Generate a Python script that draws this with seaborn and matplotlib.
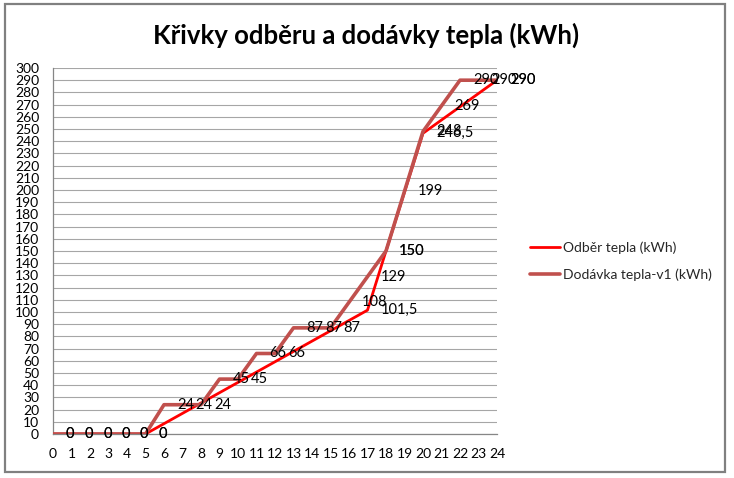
import numpy as np
import pandas as pd
import matplotlib
matplotlib.use("Agg")
import matplotlib.pyplot as plt
from matplotlib.patches import Rectangle
import seaborn as sns

# ---- data ----
hours = list(range(25))
odber = [0, 0, 0, 0, 0, 0,
         None, None, None, None, None, None, None, None, None, None, None,
         101.5, 150, None, 246.5, None, None, None, 290]
dodavka = [0, 0, 0, 0, 0, 0, 24, 24, 24, 45, 45, 66, 66, 87, 87, 87,
           108, 129, 150, 199, 248, 269, 290, 290, 290]
series_names = ["Odběr tepla (kWh)", "Dodávka tepla-v1 (kWh)"]
title = "Křivky odběru a dodávky tepla (kWh)"
y_ticks = list(range(0, 301, 10))

colors = {"Odběr tepla (kWh)": "#FF0000", "Dodávka tepla-v1 (kWh)": "#C0504D"}
widths = {"Odběr tepla (kWh)": 2.0, "Dodávka tepla-v1 (kWh)": 2.6}

sns.set_style("white")
plt.rcParams["font.family"] = ["Lato", "DejaVu Sans"]

W, H = 734, 478
fig = plt.figure(figsize=(W / 100, H / 100), dpi=100)
fig.patch.set_facecolor("white")

ax = fig.add_axes([53 / W, (H - 434) / H, (497 - 53) / W, (434 - 68) / H])

frames = []
for name, vals in zip(series_names, [odber, dodavka]):
    d = pd.DataFrame({"hour": hours, "value": vals, "series": name})
    frames.append(d)
df = pd.concat(frames, ignore_index=True)
df["value"] = pd.to_numeric(df["value"])

for name in series_names:
    sub = df[(df["series"] == name)].dropna(subset=["value"])
    sns.lineplot(data=sub, x="hour", y="value", color=colors[name],
                 linewidth=widths[name], label=name, ax=ax, sort=True,
                 zorder=3 if name == series_names[0] else 4)


def fmt(v):
    if float(v).is_integer():
        return str(int(v))
    return ("%g" % v).replace(".", ",")


for name in series_names:
    sub = df[(df["series"] == name)].dropna(subset=["value"])
    for x, v in zip(sub["hour"], sub["value"]):
        ax.annotate(fmt(v), (x, v), xytext=(13, 0), textcoords="offset pixels",
                    ha="left", va="center", fontsize=10.5, color="black",
                    annotation_clip=False, zorder=6)

ax.set_xlim(0, 24)
ax.set_ylim(0, 300)
ax.set_xticks(hours)
ax.set_xticklabels([str(h) for h in hours])
ax.set_yticks(y_ticks)
ax.set_yticklabels([str(t) for t in y_ticks])
ax.set_xlabel("")
ax.set_ylabel("")

ax.grid(axis="y", color="#a6a6a6", linewidth=0.8, zorder=0)
ax.grid(axis="x", visible=False)
for s in ["top", "right"]:
    ax.spines[s].set_visible(False)
for s in ["left", "bottom"]:
    ax.spines[s].set_color("#868686")
    ax.spines[s].set_linewidth(0.9)
ax.tick_params(axis="both", direction="out", length=4, width=0.8,
               color="#868686", labelsize=10, labelcolor="black")
ax.tick_params(axis="y", pad=6)
ax.tick_params(axis="x", pad=6)

leg = ax.legend(loc="center left", bbox_to_anchor=(524 / W, 1 - 261 / H),
                bbox_transform=fig.transFigure, frameon=False, fontsize=10,
                handlelength=2.2, handletextpad=0.2, labelspacing=1.05,
                borderaxespad=0)

fig.text(366 / W, 1 - 35 / H, title, ha="center", va="center",
         fontsize=18.5, fontweight="bold", color="black")

fig.patches.append(Rectangle((5 / W, 1 - 472 / H), 720 / W, 468 / H,
                             transform=fig.transFigure, fill=False,
                             edgecolor="#808080", linewidth=1.6))

fig.savefig("out.png", dpi=100, facecolor="white")
